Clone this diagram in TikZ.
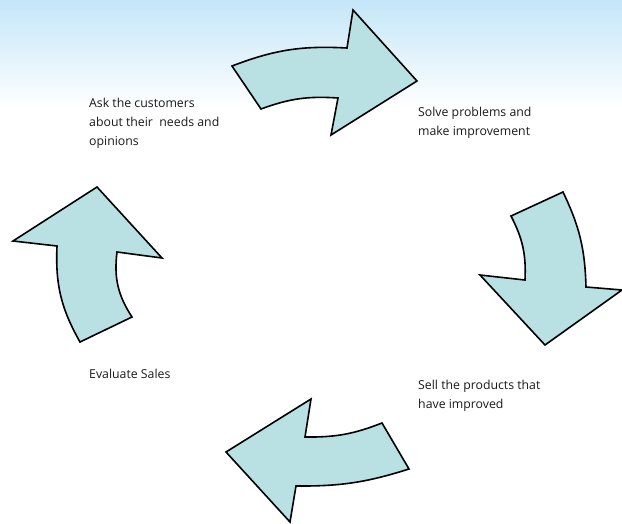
\documentclass[tikz,border=0pt]{standalone}
\usepackage{fontspec}
\setmainfont{Open Sans}
\begin{document}
\begin{tikzpicture}[x=1pt,y=-1pt,
  arr/.style={draw=black,line width=1.6pt,fill=arrowfill,line join=miter},
  lbl/.style={anchor=base west,align=left,inner sep=0pt,font=\fontsize{12.3}{19}\selectfont,text=black!90}]
\definecolor{arrowfill}{RGB}{185,224,227}
\definecolor{skytop}{RGB}{196,230,248}
\useasboundingbox (0,0) rectangle (622,523);
\shade[top color=skytop,bottom color=white] (0,0) rectangle (622,108);
% top arrow
\draw[arr] (232,66) to[bend left=12] (347,48) -- (353,10) -- (417,81) -- (331,135) -- (338,98)
  to[bend right=12] (261,109) -- cycle;
% right arrow
\draw[arr] (511,216) -- (563,192) to[bend left=12] (586,287) -- (622,290) -- (545,345) -- (480,275) -- (525,280)
  to[bend right=15] cycle;
% left arrow
\draw[arr] (80,342) -- (132,317) to[bend left=20] (117,252) -- (162,258) -- (97,187) -- (13,241) -- (57,246)
  to[bend right=16] cycle;
% bottom arrow
\draw[arr] (382,423) -- (409,469) to[bend left=9] (296,486) -- (290,522) -- (226,452) -- (311,399) -- (305,437)
  to[bend right=11] cycle;
\node[lbl] (ask) at (89,145) {Ask the customers\\about their\ \ needs and\\opinions};
\node[lbl] (solve) at (418,135) {Solve problems and\\make improvement};
\node[lbl] (eval) at (89,378) {Evaluate Sales};
\node[lbl] (sell) at (418,408) {Sell the products that\\have improved};
\end{tikzpicture}
\end{document}
